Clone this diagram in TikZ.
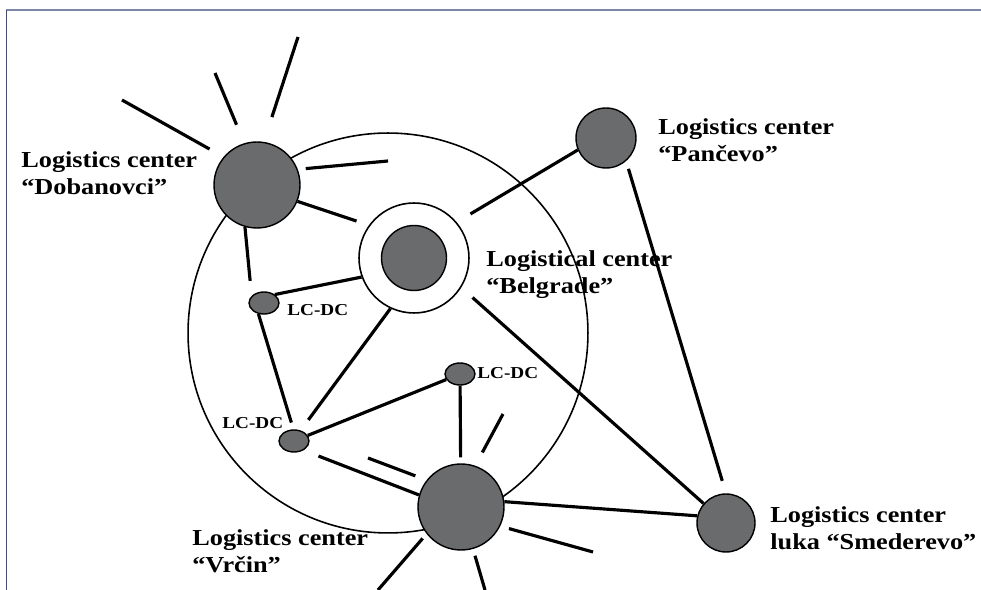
\documentclass[tikz,border=0pt]{standalone}
\usepackage{fontspec}
\setmainfont[FakeStretch=1.15]{Liberation Serif}
\usetikzlibrary{shapes.geometric}
\definecolor{hubgray}{RGB}{106,107,109}
\definecolor{frametop}{RGB}{125,136,166}
\definecolor{frameleft}{RGB}{59,74,140}

\begin{document}
\begin{tikzpicture}[x=0.02cm, y=-0.02cm,
  hub/.style={circle, draw, line width=0.8pt, fill=hubgray, inner sep=0pt},
  lcdc/.style={ellipse, draw, line width=0.8pt, fill=hubgray, minimum width=0.6cm, minimum height=0.44cm, inner sep=0pt},
  link/.style={line width=1.8pt},
  ring/.style={line width=0.9pt},
  lbl/.style={font=\bfseries\fontsize{13}{15.9}\selectfont, align=left, inner sep=0pt, anchor=base west},
  lcl/.style={font=\bfseries\fontsize{9.5}{11}\selectfont, inner sep=0pt, anchor=base west}]
  \useasboundingbox (0,0) rectangle (981,590);
  % frame
  \draw[frametop, line width=1.2pt] (6,10) -- (981,10);
  \draw[frameleft, line width=1pt] (6.5,10) -- (6.5,590);
  % region round Belgrade
  \draw[ring] (388,333) circle[radius=4cm];
  % centers
  \node[hub, minimum size=1.72cm] (dobanovci) at (257,185) {};
  \node[circle, draw, ring, fill=white, minimum size=2.2cm, inner sep=0pt] (belgrade) at (414,258) {};
  \node[hub, minimum size=1.3cm] (belgradecore) at (414,258) {};
  \node[hub, minimum size=1.2cm] (pancevo) at (606,138) {};
  \node[hub, minimum size=1.16cm] (smederevo) at (726,523) {};
  \node[hub, minimum size=1.72cm] (vrcin) at (461,507) {};
  \node[lcdc] (lcA) at (264,303) {};
  \node[lcdc] (lcB) at (294,441) {};
  \node[lcdc] (lcC) at (460,374) {};
  % free ends of the spokes
  \coordinate (dA) at (122,100);
  \coordinate (dB) at (215,73);
  \coordinate (dC) at (298,37);
  \coordinate (dD) at (388,161);
  \coordinate (vA) at (368,458);
  \coordinate (vB) at (503,414);
  \coordinate (vC) at (593,552);
  \coordinate (vD) at (378,590);
  \coordinate (vE) at (485,590);
  % spokes
  \draw[link, shorten <=0.32cm] (dobanovci.140) -- (dA);
  \draw[link, shorten <=0.4cm] (dobanovci.107) -- (dB);
  \draw[link, shorten <=0.52cm] (dobanovci.81) -- (dC);
  \draw[link, shorten <=0.16cm] (dobanovci.21) -- (dD);
  \draw[link, shorten <=0.24cm] (vrcin.142) -- (vA);
  \draw[link, shorten <=0.3cm] (vrcin.71) -- (vB);
  \draw[link, shorten <=0.18cm] (vrcin.-26) -- (vC);
  \draw[link, shorten <=0.12cm] (vrcin.-142) -- (vD);
  \draw[link, shorten <=0.14cm] (vrcin.-74) -- (vE);
  % links
  \draw[link, shorten >=0.26cm] (dobanovci.-22) -- (belgrade.144);
  \draw[link, shorten >=0.3cm] (dobanovci.-106) -- (lcA.150);
  \draw[link] (lcA.38) -- (belgrade.-160);
  \draw[link, shorten <=0.32cm] (belgrade.40) -- (pancevo.-157);
  \draw[link, shorten <=0.3cm] (belgrade.-32) -- (smederevo.139);
  \draw[link, shorten >=0.26cm] (belgrade.-115) -- (lcB.58);
  \draw[link, shorten >=0.14cm] (lcA.-117) -- (lcB.93);
  \draw[link] (lcB) -- (lcC);
  \draw[link, shorten >=0.12cm] (lcC) -- (vrcin);
  \draw[link, shorten <=0.32cm] (lcB.-44) -- (vrcin.164);
  \draw[link] (vrcin.7) -- (smederevo.166);
  \draw[link, shorten <=0.16cm, shorten >=0.26cm] (pancevo.-49) -- (smederevo.90);
  % labels (base = last line)
  \node[lbl] (lblDob) at (21,195) {Logistics center\\“Dobanovci”};
  \node[lbl] (lblPan) at (658,162) {Logistics center\\“Pančevo”};
  \node[lbl] (lblBel) at (486,294) {Logistical center\\“Belgrade”};
  \node[lbl] (lblSme) at (770,550) {Logistics center\\luka “Smederevo”};
  \node[lbl] (lblVrc) at (192,573) {Logistics center\\“Vrčin”};
  \node[lcl] (lblA) at (287,316) {LC-DC};
  \node[lcl] (lblB) at (222,429) {LC-DC};
  \node[lcl] (lblC) at (477,379) {LC-DC};
\end{tikzpicture}
\end{document}
